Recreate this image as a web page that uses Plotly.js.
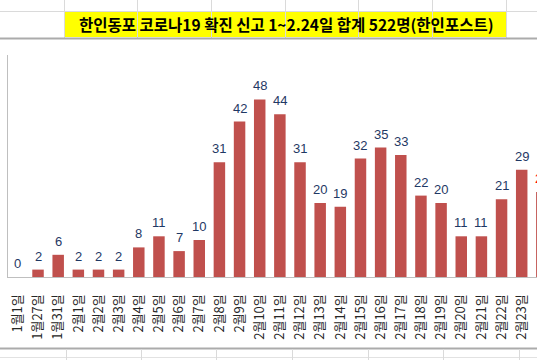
<!DOCTYPE html>
<html>
<head>
<meta charset="utf-8">
<script src="https://cdn.plot.ly/plotly-3.0.1.min.js"></script>
<style>
html,body{margin:0;padding:0;overflow:hidden;background:#fff;}
#wrap{width:537px;height:360px;overflow:hidden;position:relative;}
#chart{width:560px;height:360px;}
</style>
</head>
<body>
<div id="wrap"><div id="chart"></div></div>
<script>
// ---- data ----
const categories = ["1월1일","1월27일","1월31일","2월1일","2월2일","2월3일","2월4일","2월5일","2월6일","2월7일","2월8일","2월9일","2월10일","2월11일","2월12일","2월13일","2월14일","2월15일","2월16일","2월17일","2월18일","2월19일","2월20일","2월21일","2월22일","2월23일","2월24일"];
const cases = [0,2,6,2,2,2,8,11,7,10,31,42,48,44,31,20,19,32,35,33,22,20,11,11,21,29,23];
const labelColors = cases.map((v,i)=> i === cases.length-1 ? "#FF0000" : "#1F3864");
const visibleTicks = categories.slice(0, categories.length-1);
const titleText = "한인동포 코로나19 확진 신고 1~2.24일 합계 522명(한인포스트)";

// ---- layout helpers (pixel -> paper) ----
const W = 560, H = 360, ML = 8, MR = 0, MT = 55, MB = 83;
const PW = W - ML - MR, PH = H - MT - MB;
const px = x => (x - ML) / PW;
const py = y => (H - MB - y) / PH;

const shapes = [];
function hline(y, x0, x1, color, w){ shapes.push({type:"line", xref:"paper", yref:"paper", x0:px(x0), x1:px(x1), y0:py(y), y1:py(y), line:{color:color, width:w}}); }
function vline(x, y0, y1, color, w){ shapes.push({type:"line", xref:"paper", yref:"paper", x0:px(x), x1:px(x), y0:py(y0), y1:py(y1), line:{color:color, width:w}}); }

// spreadsheet background
shapes.push({type:"rect", xref:"paper", yref:"paper", x0:px(64), x1:px(506), y0:py(37), y1:py(12), fillcolor:"#FFFF00", line:{width:0}});
hline(11.5, 0, W, "#DADADA", 1);
[64,137,211,285,358,432,506].forEach(x=>vline(x+0.5, 0, 38, "#DADADA", 1));
hline(38.5, 0, W, "#ABABAB", 2);
hline(348.5, 0, W, "#ABABAB", 2);
hline(357.5, 0, W, "#E2E2E2", 1);
[66,141,216,292,368,443,519].forEach(x=>vline(x+0.5, 349, 360, "#DADADA", 1));

const annotations = [{
  text: "<b>" + titleText + "</b>", xref:"paper", yref:"paper",
  x: px(286), y: py(24.5), xanchor:"center", yanchor:"middle", showarrow:false,
  font:{family:"Noto Sans CJK KR", size:15.5, color:"#000000"}
}];
categories.forEach((c,i)=>{
  annotations.push({
    x: c, y: cases[i], xref:"x", yref:"y", text: String(cases[i]),
    showarrow:false, xanchor:"center", yanchor:"bottom", yshift:4,
    font:{family:"Liberation Sans", size:13, color:labelColors[i]}
  });
});

const trace = {
  type:"bar", x: categories, y: cases,
  marker:{color:"#C0504D"},
  hoverinfo:"skip"
};

const layout = {
  width: W, height: H,
  margin:{l:ML, r:MR, t:MT, b:MB, pad:0},
  paper_bgcolor:"#FFFFFF", plot_bgcolor:"#FFFFFF",
  showlegend:false,
  bargap:0.43,
  xaxis:{
    type:"category", range:[-0.49, 26.9],
    tickmode:"array", tickvals: visibleTicks, ticktext: visibleTicks,
    showline:true, linecolor:"#BFBFBF", linewidth:1,
    showgrid:false, zeroline:false, ticks:"",
    tickangle:-90, ticklabelstandoff:11,
    tickfont:{family:"Noto Sans CJK KR", size:13, color:"#262626"}
  },
  yaxis:{
    range:[0,60], showline:true, linecolor:"#BFBFBF", linewidth:1,
    showgrid:false, zeroline:false, showticklabels:false, ticks:""
  },
  shapes: shapes,
  annotations: annotations
};

Plotly.newPlot("chart", [trace], layout, {displayModeBar:false, staticPlot:true});
</script>
</body>
</html>
